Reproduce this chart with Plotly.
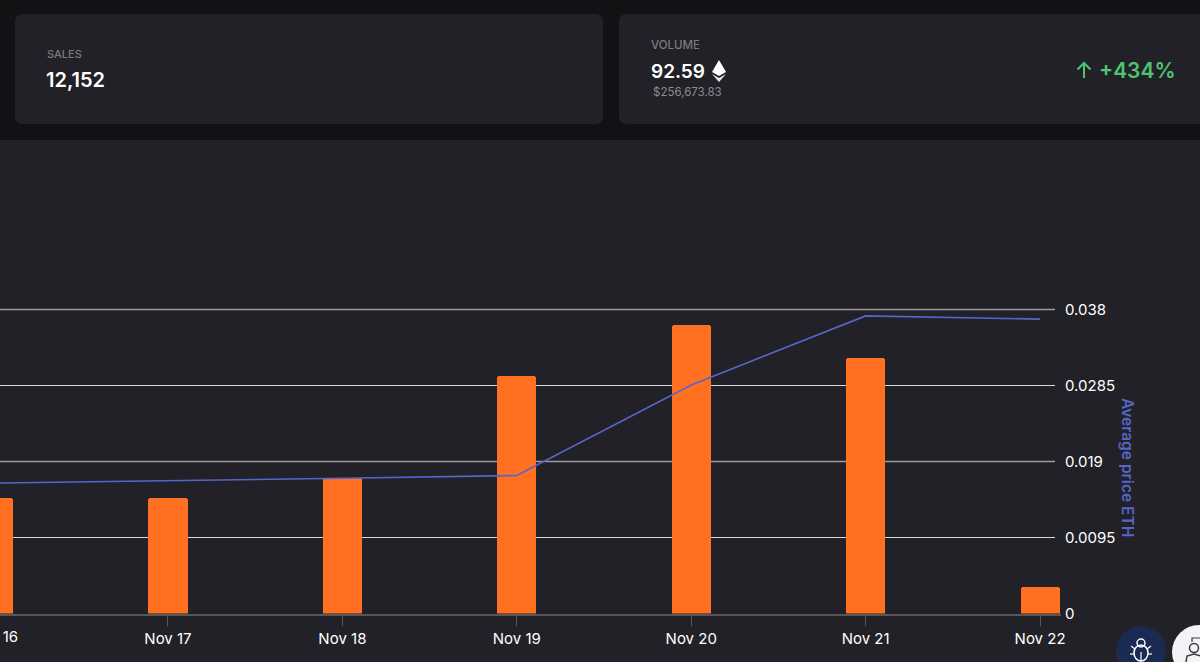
import plotly.graph_objects as go

W, H = 1200, 662

dates = ["Nov 16", "Nov 17", "Nov 18", "Nov 19", "Nov 20", "Nov 21", "Nov 22"]
sales = [1160, 1165, 1360, 2385, 2895, 2560, 275]
avg_price = [0.0163, 0.01656, 0.0169, 0.01725, 0.02856, 0.0372, 0.0368]
price_ticks = [0, 0.0095, 0.019, 0.0285, 0.038]
price_labels = ["0", "0.0095", "0.019", "0.0285", "0.038"]
bright_grid = [760, 2280]
dim_grid = [1520, 3040]

PAGE = "#121215"
CARD = "#222127"
ORANGE = "#ff7020"
BLUE = "#5566c8"
FONT = "Inter"


def px(x):
    return x / W


def py(y):
    return 1 - y / H


def rrect(x0, y0, x1, y1, r):
    return (f"M{px(x0+r)},{py(y0)} L{px(x1-r)},{py(y0)} Q{px(x1)},{py(y0)} {px(x1)},{py(y0+r)} "
            f"L{px(x1)},{py(y1-r)} Q{px(x1)},{py(y1)} {px(x1-r)},{py(y1)} "
            f"L{px(x0+r)},{py(y1)} Q{px(x0)},{py(y1)} {px(x0)},{py(y1-r)} "
            f"L{px(x0)},{py(y0+r)} Q{px(x0)},{py(y0)} {px(x0+r)},{py(y0)} Z")


def poly(points):
    return "M" + " L".join(f"{px(a)},{py(b)}" for a, b in points) + " Z"


def stroke(points, color, lw):
    path = "M" + " L".join(f"{px(a)},{py(b)}" for a, b in points)
    return dict(type="path", xref="paper", yref="paper", path=path, fillcolor="rgba(0,0,0,0)",
                line=dict(color=color, width=lw), layer="above")


def pshape(path, fill, layer="below"):
    return dict(type="path", xref="paper", yref="paper", path=path, fillcolor=fill,
                line=dict(color=fill, width=0), layer=layer)


def circle(cx, cy, r, fill, line=None, lw=0):
    return dict(type="circle", xref="paper", yref="paper", x0=px(cx - r), x1=px(cx + r),
                y0=py(cy + r), y1=py(cy - r), fillcolor=fill,
                line=dict(color=line or fill, width=lw), layer="above")


def label(x, y, text, size, color, xanchor="left", weight=400, angle=0):
    return dict(xref="paper", yref="paper", x=px(x), y=py(y), text=text, showarrow=False,
                xanchor=xanchor, yanchor="middle", textangle=angle,
                font=dict(family=FONT, size=size, color=color, weight=weight))


NONE = "rgba(0,0,0,0)"
shapes = [
    pshape(rrect(15, 14, 603, 124, 8), CARD),
    pshape(rrect(619, 14, 1230, 124, 8), CARD),
    pshape(f"M0,{py(140)} L1,{py(140)} L1,0 L0,0 Z", CARD),
    # Ethereum mark beside the volume
    pshape(poly([(719, 60), (726, 72), (719, 76), (712, 72)]), "#ffffff", "above"),
    pshape(poly([(712, 74), (719, 78), (726, 74), (719, 82)]), "#e8e8e8", "above"),
    # Up arrow before the percentage
    stroke([(1084, 78), (1084, 63)], "#4fc36f", 2),
    stroke([(1077.5, 69.5), (1084, 63), (1090.5, 69.5)], "#4fc36f", 2),
    # Bug button
    circle(1141, 651, 25, "#1b2a52"),
    dict(type="circle", xref="paper", yref="paper", x0=px(1134), x1=px(1148), y0=py(661), y1=py(645),
         fillcolor=NONE, line=dict(color="#ffffff", width=1.5), layer="above"),
    circle(1141, 643, 4, NONE, "#ffffff", 1.5),
    stroke([(1141, 652), (1141, 661)], "#ffffff", 1.2),
    stroke([(1131, 646), (1135, 649)], "#ffffff", 1.2),
    stroke([(1151, 646), (1147, 649)], "#ffffff", 1.2),
    stroke([(1130, 654), (1134, 654)], "#ffffff", 1.2),
    stroke([(1152, 654), (1148, 654)], "#ffffff", 1.2),
    # Profile button
    circle(1199, 652, 27, "#f4f4f6"),
    circle(1194, 648, 4.5, NONE, "#3a3a44", 1.5),
    stroke([(1186, 662), (1187, 656), (1194, 654), (1201, 656), (1202, 662)], "#3a3a44", 1.5),
    stroke([(1192, 642), (1192, 638), (1200, 638)], "#3a3a44", 1.2),
]

annotations = [
    label(45, 54, "SALES", 11, "#7b7a80", weight=500),
    label(44, 80, "12,152", 20, "#ffffff", weight=600),
    label(649, 45, "VOLUME", 11.5, "#7b7a80", weight=500),
    label(649, 72, "92.59", 19, "#ffffff", weight=600),
    label(651, 92, "$256,673.83", 11.5, "#8b8a90"),
    label(1097, 70, "+434%", 21, "#4fc36f", weight=600),
    label(-6.5, 636, "Nov 16", 15, "#ffffff", xanchor="center"),
    label(1127, 467, "Average price ETH", 15.5, BLUE, xanchor="center", weight=600, angle=90),
]

fig = go.Figure()
fig.add_trace(go.Bar(x=dates, y=sales, marker=dict(color=ORANGE, cornerradius=3, line_width=0),
                     width=0.224, yaxis="y", hoverinfo="skip"))
fig.add_trace(go.Scatter(x=dates, y=avg_price, mode="lines", line=dict(color=BLUE, width=1.6),
                         yaxis="y2", hoverinfo="skip"))

for vals, color, lw in ((bright_grid, "#d8d8d8", 1), (dim_grid, "#9c9c9f", 1.4)):
    for v in vals:
        shapes.append(dict(type="line", xref="paper", yref="y", x0=0, x1=px(1055), y0=v, y1=v,
                           line=dict(color=color, width=lw), layer="below"))

TOP_SALES = 3100
TOP_PRICE = 0.03875
top_px = 613.5 - 304 * TOP_PRICE / 0.038

fig.update_layout(
    width=W, height=H, margin=dict(l=0, r=0, t=0, b=0, autoexpand=False), autosize=False,
    paper_bgcolor=PAGE, plot_bgcolor=CARD, showlegend=False, bargap=0,
    font=dict(family=FONT, size=15, color="#ffffff"),
    shapes=shapes, annotations=annotations,
    xaxis=dict(domain=[0, px(1061)], type="category", categoryorder="array", categoryarray=dates,
               range=[0.037, 6.12], showgrid=False, showline=True, linecolor="#55555a", linewidth=1.5,
               ticks="outside", ticklen=11, tickcolor="#55555a", tickwidth=1,
               tickfont=dict(family=FONT, size=15, color="#ffffff"), zeroline=False),
    yaxis=dict(domain=[py(613.5), py(top_px)], range=[0, TOP_SALES], showticklabels=False,
               showgrid=False, zeroline=False, ticks=""),
    yaxis2=dict(domain=[py(613.5), py(top_px)], overlaying="y", side="right", anchor="x",
                range=[0, TOP_PRICE], tickvals=price_ticks, ticktext=price_labels, showgrid=False,
                zeroline=False, ticks="", ticklabelstandoff=3,
                tickfont=dict(family=FONT, size=15, color="#ffffff")),
)

fig.write_html("out.html", config=dict(displayModeBar=False),
               post_script="document.body.style.margin='0';document.body.style.background='#121215';")
